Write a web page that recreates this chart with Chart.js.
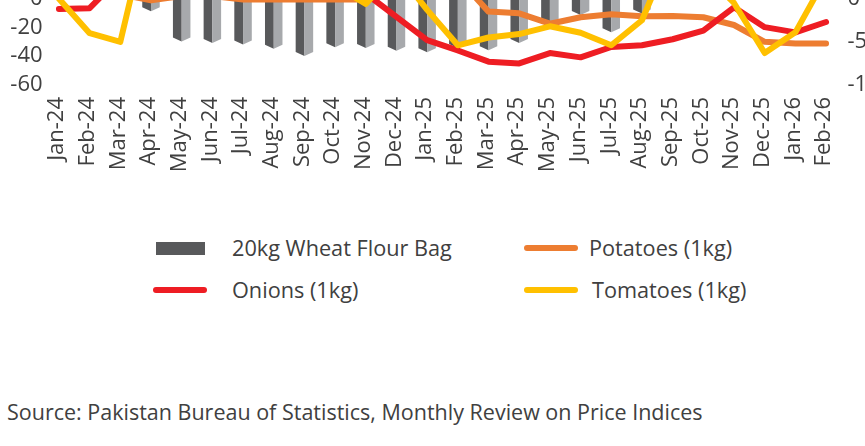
<!DOCTYPE html>
<html>
<head>
<meta charset="utf-8">
<script src="https://cdn.jsdelivr.net/npm/chart.js@4.4.1/dist/chart.umd.min.js"></script>
<style>
  html, body { margin: 0; padding: 0; background: #fff; }
  body { width: 865px; height: 446px; overflow: hidden; position: relative; font-family: 'Open Sans', sans-serif; color: #404040; }
  #wrap { position: absolute; left: 0; top: -174px; width: 920px; height: 359px; }
  .lg-text { position: absolute; font-size: 21.7px; line-height: 26px; white-space: nowrap; }
  .lg-bar { position: absolute; width: 49px; height: 13px; }
  .lg-line { position: absolute; width: 54px; height: 6px; border-radius: 3px; }
  #source { position: absolute; left: 7px; top: 397px; font-size: 21.5px; line-height: 30px; white-space: nowrap; }
</style>
</head>
<body>
<div id="wrap"><canvas id="myChart"></canvas></div>
<div id="legend"></div>
<div id="source">Source: Pakistan Bureau of Statistics, Monthly Review on Price Indices</div>
<script>
// Месяцы
const labels = ['Jan-24', 'Feb-24', 'Mar-24', 'Apr-24', 'May-24', 'Jun-24', 'Jul-24', 'Aug-24', 'Sep-24', 'Oct-24', 'Nov-24', 'Dec-24',
  'Jan-25', 'Feb-25', 'Mar-25', 'Apr-25', 'May-25', 'Jun-25', 'Jul-25', 'Aug-25', 'Sep-25', 'Oct-25', 'Nov-25', 'Dec-25',
  'Jan-26', 'Feb-26'];

// Мука (левая ось)
const wheatFlour = [18, 12, 6, -6, -27, -28, -29, -32, -37, -31, -31.5, -33.5,
  -34.5, -31.5, -33, -28, -15.5, -8.5, -20.5, -7.5, 25, 55, 70, 60, 45, 40];
// Лук, картофель, помидоры (правая ось)
const onions = [-12, -11, 25, 40, 35, 30, 25, 20, 15, 10, 6, -21,
  -48, -60, -73, -75, -63, -68, -56, -54, -47, -37, -10, -33, -39, -27];
const potatoes = [15, 10, 5, -2, 3, 3, -1, -1, -1, -1, -1, 10,
  20, 24, -15, -17, -29, -21.5, -18, -20.5, -20, -21.5, -30.5, -50, -52, -52];
const tomatoes = [0, -40, -50, 100, 80, 60, 40, 30, 20, 15, -6, 32,
  -13, -54, -45, -41, -32, -39.5, -54, -25, 59, 30, -5, -63, -39, 25];

const seriesNames = ['20kg Wheat Flour Bag', 'Potatoes (1kg)', 'Onions (1kg)', 'Tomatoes (1kg)'];
const seriesColors = ['#58595B', '#ED7D31', '#EE1D23', '#FFC000'];
const sideColor = '#A7A9AC';

// Объёмные столбики: тёмная грань слева, светлая справа
const bar3d = {
  id: 'bar3d',
  afterDatasetDraw(chart, args) {
    if (args.meta.type !== 'bar') return;
    const ctx = chart.ctx;
    ctx.save();
    args.meta.data.forEach(el => {
      const p = el.getProps(['x', 'y', 'base', 'width'], true);
      const l = p.x - p.width / 2;
      const r = p.x + p.width / 2;
      const d = 4 * Math.sign(p.y - p.base);
      ctx.fillStyle = seriesColors[0];
      ctx.beginPath();
      ctx.moveTo(l, p.base); ctx.lineTo(p.x, p.base); ctx.lineTo(p.x, p.y + d); ctx.lineTo(l, p.y);
      ctx.closePath(); ctx.fill();
      ctx.fillStyle = sideColor;
      ctx.beginPath();
      ctx.moveTo(p.x, p.base); ctx.lineTo(r, p.base); ctx.lineTo(r, p.y); ctx.lineTo(p.x, p.y + d);
      ctx.closePath(); ctx.fill();
    });
    ctx.restore();
  }
};

function lineSet(name, data, color, order) {
  return {
    type: 'line', label: name, data: data, yAxisID: 'y1', order: order,
    borderColor: color, backgroundColor: color, borderWidth: 6,
    pointRadius: 0, tension: 0, borderJoinStyle: 'round', borderCapStyle: 'round'
  };
}

const tickFont = { family: "'Open Sans', sans-serif", size: 22 };

new Chart(document.getElementById('myChart'), {
  data: {
    labels: labels,
    datasets: [
      { type: 'bar', label: seriesNames[0], data: wheatFlour, yAxisID: 'y', order: 4,
        backgroundColor: 'rgba(0,0,0,0)', categoryPercentage: 1, barPercentage: 0.57 },
      lineSet(seriesNames[1], potatoes, seriesColors[1], 3),
      lineSet(seriesNames[2], onions, seriesColors[2], 2),
      lineSet(seriesNames[3], tomatoes, seriesColors[3], 1)
    ]
  },
  options: {
    responsive: true,
    maintainAspectRatio: false,
    animation: false,
    layout: { padding: 0 },
    plugins: { legend: { display: false }, tooltip: { enabled: false } },
    scales: {
      x: {
        grid: { display: false, drawTicks: false },
        border: { display: false },
        ticks: { color: '#404040', font: tickFont, minRotation: 90, maxRotation: 90, autoSkip: false, padding: 12, labelOffset: -2 },
        afterFit: s => { s.height = 100; }
      },
      y: {
        position: 'left', min: -60, max: 120,
        grid: { display: false, drawTicks: false },
        border: { display: false },
        ticks: { stepSize: 20, autoSkip: false, color: '#404040', font: tickFont, padding: 1 },
        afterFit: s => { s.width = 43.6; s.paddingTop = 0; s.paddingBottom = 0; }
      },
      y1: {
        position: 'right', min: -100, max: 200,
        grid: { display: false, drawTicks: false },
        border: { display: false },
        ticks: { stepSize: 50, autoSkip: false, color: '#404040', font: tickFont, padding: 6 },
        afterFit: s => { s.width = 78.6; s.paddingTop = 0; s.paddingBottom = 0; }
      }
    }
  },
  plugins: [bar3d]
});

// Легенда в две колонки
const legend = document.getElementById('legend');
const legendPos = [
  { mark: 'bar', mx: 156, my: 242, tx: 232, ty: 235 },
  { mark: 'line', mx: 524, my: 245, tx: 589, ty: 235 },
  { mark: 'line', mx: 153, my: 287, tx: 232, ty: 277 },
  { mark: 'line', mx: 524, my: 287, tx: 592, ty: 277 }
];
seriesNames.forEach((name, i) => {
  const pos = legendPos[i];
  const m = document.createElement('div');
  m.className = pos.mark === 'bar' ? 'lg-bar' : 'lg-line';
  m.style.left = pos.mx + 'px';
  m.style.top = pos.my + 'px';
  m.style.background = seriesColors[i];
  legend.appendChild(m);
  const t = document.createElement('div');
  t.className = 'lg-text';
  t.style.left = pos.tx + 'px';
  t.style.top = pos.ty + 'px';
  t.textContent = name;
  legend.appendChild(t);
});
</script>
</body>
</html>
